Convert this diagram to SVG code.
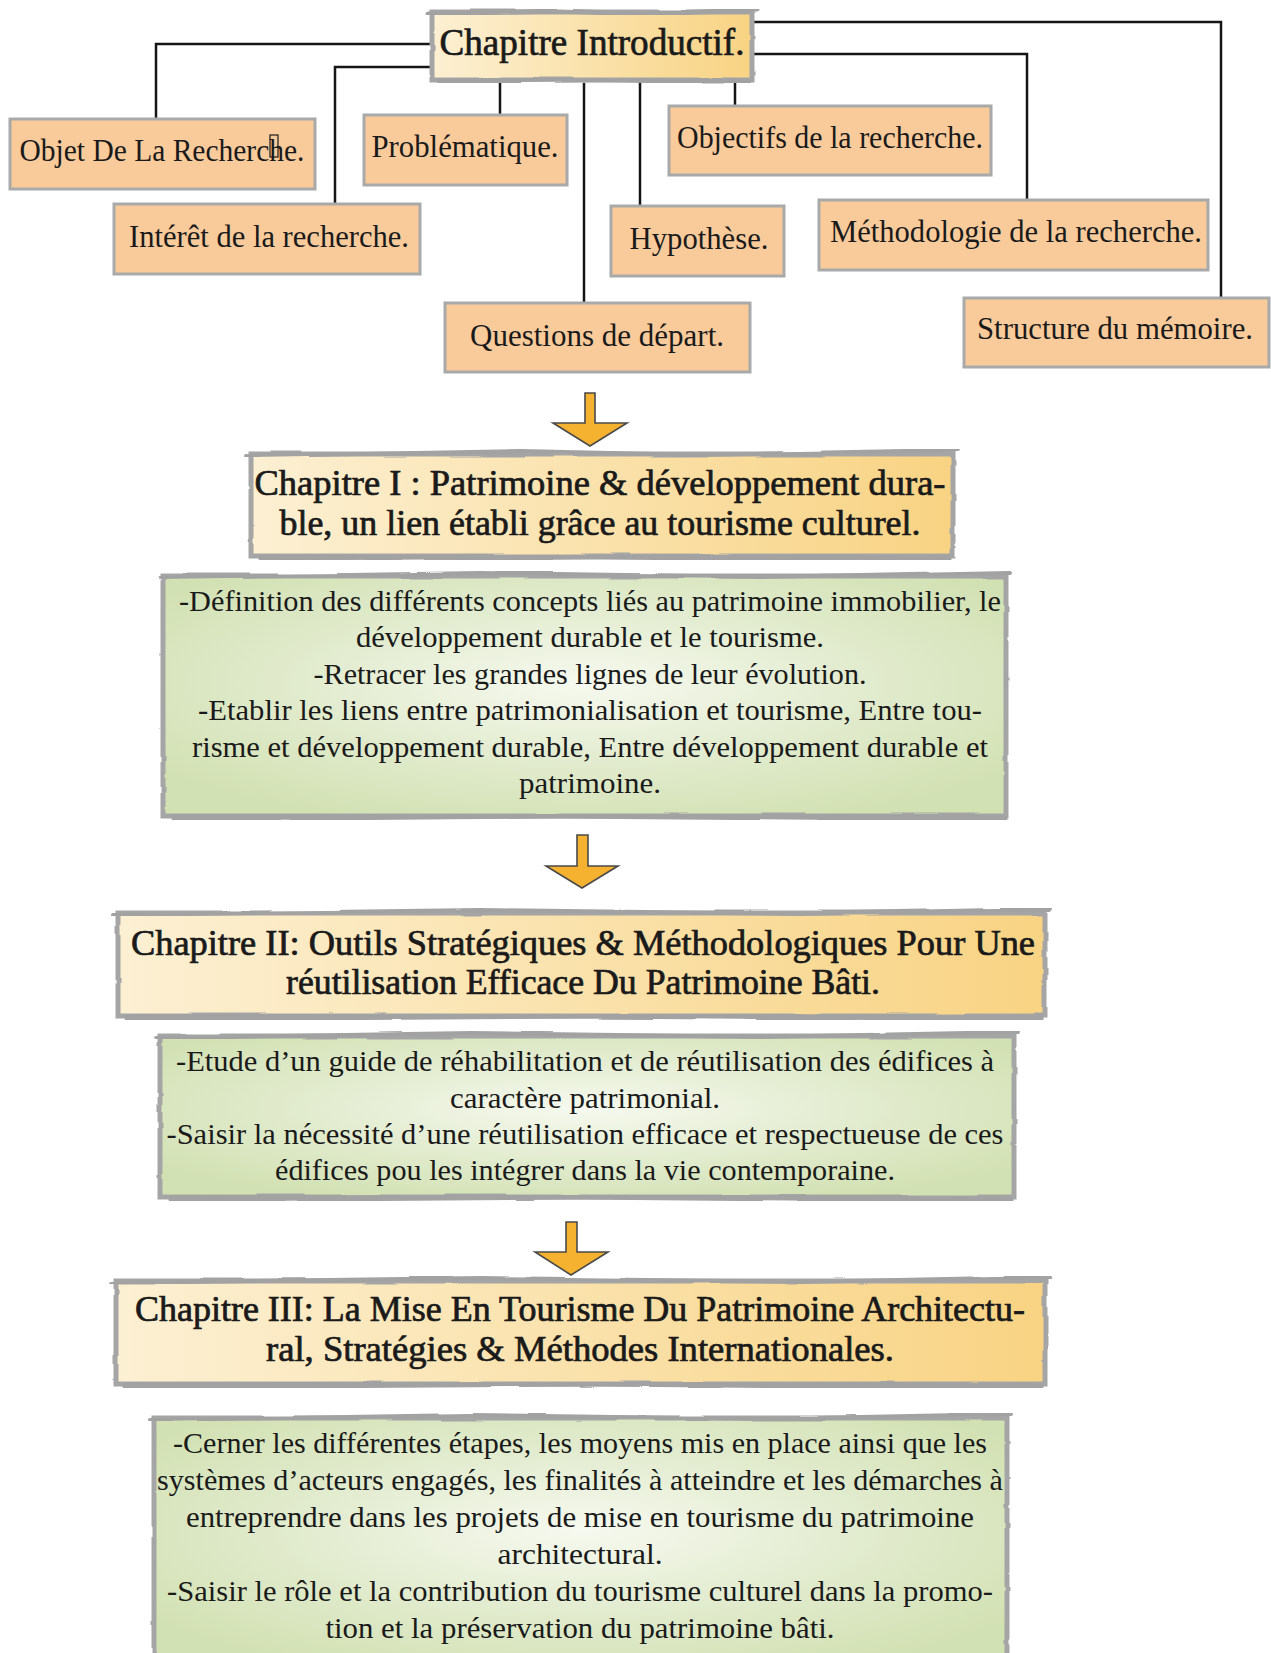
<svg xmlns="http://www.w3.org/2000/svg" width="1271" height="1653" viewBox="0 0 1271 1653">
  <defs>
    <linearGradient id="chapFill" x1="0" y1="0" x2="1" y2="0">
      <stop offset="0" stop-color="#FCF0D3"/>
      <stop offset="1" stop-color="#F8D383"/>
    </linearGradient>
    <radialGradient id="noteFill" cx="0.5" cy="0.45" r="0.62">
      <stop offset="0" stop-color="#F6F9EF"/>
      <stop offset="0.55" stop-color="#E1EBCD"/>
      <stop offset="1" stop-color="#D2E1B3"/>
    </radialGradient>
    <!-- soft hand-painted wobble for the frame strokes -->
    <filter id="rough" x="-3%" y="-15%" width="106%" height="130%">
      <feTurbulence type="fractalNoise" baseFrequency="0.012 0.06" numOctaves="2" seed="4" result="n"/>
      <feDisplacementMap in="SourceGraphic" in2="n" scale="3" xChannelSelector="R" yChannelSelector="G"/>
    </filter>
    <style>
      .txt { font-family: "Liberation Serif", "DejaVu Serif", serif; fill: #1a1a1a; text-anchor: middle; }
      .tagTxt { font-size: 31px; }
      .head { font-size: 35px; stroke: #1a1a1a; stroke-width: 0.7px; }
      .intro { font-size: 38px; stroke: #1a1a1a; stroke-width: 0.7px; }
      .body { font-size: 29px; }
      .tag { fill: #F9CB9B; stroke: #A9A9A9; stroke-width: 3; }
      .chap { fill: url(#chapFill); }
      .note { fill: url(#noteFill); }
      .frame { fill: none; stroke: #A5A5A5; stroke-width: 5; filter: url(#rough); }
      .brush { fill: none; stroke: #A2A2A2; stroke-linecap: round; filter: url(#rough); }
      .link { fill: none; stroke: #151515; stroke-width: 2.5; stroke-linecap: square; }
      .arrow { fill: #F5B231; stroke: #4A4A4A; stroke-width: 1.6; stroke-linejoin: miter; }
    </style>
  </defs>

  <rect width="1271" height="1653" fill="#FFFFFF"/>

  <!-- tree links from the introductory chapter -->
  <g id="connectors">
    <path class="link" d="M432,44 H156 V119"/>
    <path class="link" d="M432,67 H335 V204"/>
    <path class="link" d="M500,82 V115"/>
    <path class="link" d="M584,84 V303"/>
    <path class="link" d="M640,82 V206"/>
    <path class="link" d="M735,80 V106"/>
    <path class="link" d="M753,54 H1027 V200"/>
    <path class="link" d="M753,22 H1221 V298"/>
  </g>

  <!-- introductory chapter -->
  <g id="chapitre-introductif">
    <rect class="chap" x="432" y="12" width="320" height="68"/>
    <rect class="frame" x="432" y="12" width="320" height="68"/>
    <path class="brush" stroke-width="5" d="M428,14 L560,11 L640,14 L757,10"/>
    <path class="brush" stroke-width="6" d="M440,81 L600,79 L748,82"/>
    <text class="txt intro" x="592" y="55" textLength="305" lengthAdjust="spacingAndGlyphs">Chapitre Introductif.</text>
  </g>

  <!-- sub-topic labels -->
  <g id="objet">
    <rect class="tag" x="10" y="119" width="305" height="70"/>
    <text class="txt tagTxt" x="162" y="161" textLength="285" lengthAdjust="spacingAndGlyphs">Objet De La Recherche.</text>
    <rect x="270" y="135" width="8" height="22" fill="none" stroke="#1a1a1a" stroke-width="1.2"/>
  </g>
  <g id="problematique">
    <rect class="tag" x="364" y="115" width="203" height="70"/>
    <text class="txt tagTxt" x="465" y="157" textLength="187" lengthAdjust="spacingAndGlyphs">Problématique.</text>
  </g>
  <g id="interet">
    <rect class="tag" x="114" y="204" width="306" height="70"/>
    <text class="txt tagTxt" x="269" y="247" textLength="280" lengthAdjust="spacingAndGlyphs">Intérêt de la recherche.</text>
  </g>
  <g id="objectifs">
    <rect class="tag" x="669" y="106" width="322" height="69"/>
    <text class="txt tagTxt" x="830" y="148" textLength="306" lengthAdjust="spacingAndGlyphs">Objectifs de la recherche.</text>
  </g>
  <g id="hypothese">
    <rect class="tag" x="611" y="206" width="173" height="70"/>
    <text class="txt tagTxt" x="699" y="249" textLength="139" lengthAdjust="spacingAndGlyphs">Hypothèse.</text>
  </g>
  <g id="methodologie">
    <rect class="tag" x="819" y="200" width="389" height="70"/>
    <text class="txt tagTxt" x="1016" y="242" textLength="372" lengthAdjust="spacingAndGlyphs">Méthodologie  de la recherche.</text>
  </g>
  <g id="questions">
    <rect class="tag" x="445" y="303" width="305" height="69"/>
    <text class="txt tagTxt" x="597" y="346" textLength="254" lengthAdjust="spacingAndGlyphs">Questions de départ.</text>
  </g>
  <g id="structure">
    <rect class="tag" x="964" y="298" width="305" height="69"/>
    <text class="txt tagTxt" x="1115" y="339" textLength="276" lengthAdjust="spacingAndGlyphs">Structure du mémoire.</text>
  </g>

  <!-- flow arrows between chapters -->
  <g id="arrows">
    <path class="arrow" d="M585,393 H595 V423 H627 L590,446 L553,423 H585 Z"/>
    <path class="arrow" d="M577,835 H588 V866 H618 L582,888 L546,866 H577 Z"/>
    <path class="arrow" d="M566,1222 H577 V1252 H608 L571,1275 L535,1252 H566 Z"/>
  </g>

  <!-- chapter I -->
  <g id="chapitre-1">
    <rect class="chap" x="251" y="454" width="702" height="102"/>
    <rect class="frame" x="251" y="454" width="702" height="102"/>
    <path class="brush" stroke-width="4" d="M246,456 L520,451 L700,455 L958,450"/>
    <path class="brush" stroke-width="7" d="M262,558 L600,556 L948,559"/>
    <text class="txt head" x="600" y="495" textLength="691" lengthAdjust="spacingAndGlyphs">Chapitre I : Patrimoine &amp; développement dura-</text>
    <text class="txt head" x="600" y="535" textLength="641" lengthAdjust="spacingAndGlyphs">ble, un lien établi grâce au tourisme culturel.</text>
  </g>
  <g id="contenu-1">
    <rect class="note" x="163" y="576" width="843" height="240"/>
    <rect class="frame" x="163" y="576" width="843" height="240"/>
    <path class="brush" stroke-width="4" d="M160,578 L480,573 L760,577 L1010,572"/>
    <path class="brush" stroke-width="7" d="M175,818 L560,815 L1004,819"/>
    <text class="txt body" x="590" y="611" textLength="822" lengthAdjust="spacingAndGlyphs">-Définition des différents concepts liés au patrimoine immobilier, le</text>
    <text class="txt body" x="590" y="647" textLength="468" lengthAdjust="spacingAndGlyphs">développement durable et le tourisme.</text>
    <text class="txt body" x="590" y="684" textLength="553" lengthAdjust="spacingAndGlyphs">-Retracer les grandes lignes de leur évolution.</text>
    <text class="txt body" x="590" y="720" textLength="784" lengthAdjust="spacingAndGlyphs">-Etablir les liens entre patrimonialisation et tourisme, Entre tou-</text>
    <text class="txt body" x="590" y="757" textLength="796" lengthAdjust="spacingAndGlyphs">risme et développement durable, Entre développement durable et</text>
    <text class="txt body" x="590" y="793" textLength="142" lengthAdjust="spacingAndGlyphs">patrimoine.</text>
  </g>

  <!-- chapter II -->
  <g id="chapitre-2">
    <rect class="chap" x="118" y="913" width="927" height="103"/>
    <rect class="frame" x="118" y="913" width="927" height="103"/>
    <path class="brush" stroke-width="4" d="M113,915 L480,910 L800,914 L1050,909"/>
    <path class="brush" stroke-width="7" d="M128,1018 L600,1015 L1040,1019"/>
    <text class="txt head" x="583" y="955" textLength="904" lengthAdjust="spacingAndGlyphs">Chapitre II: Outils Stratégiques &amp; Méthodologiques Pour Une</text>
    <text class="txt head" x="583" y="994" textLength="594" lengthAdjust="spacingAndGlyphs">réutilisation Efficace Du Patrimoine Bâti.</text>
  </g>
  <g id="contenu-2">
    <rect class="note" x="160" y="1036" width="854" height="161"/>
    <rect class="frame" x="160" y="1036" width="854" height="161"/>
    <path class="brush" stroke-width="4" d="M156,1038 L470,1033 L760,1037 L1018,1032"/>
    <path class="brush" stroke-width="7" d="M172,1199 L580,1196 L1010,1200"/>
    <text class="txt body" x="585" y="1071" textLength="818" lengthAdjust="spacingAndGlyphs">-Etude d’un guide de réhabilitation et de réutilisation des édifices à</text>
    <text class="txt body" x="585" y="1108" textLength="270" lengthAdjust="spacingAndGlyphs">caractère patrimonial.</text>
    <text class="txt body" x="585" y="1144" textLength="837" lengthAdjust="spacingAndGlyphs">-Saisir la nécessité d’une réutilisation efficace et respectueuse  de ces</text>
    <text class="txt body" x="585" y="1180" textLength="620" lengthAdjust="spacingAndGlyphs">édifices pou les intégrer dans la vie contemporaine.</text>
  </g>

  <!-- chapter III -->
  <g id="chapitre-3">
    <rect class="chap" x="116" y="1281" width="929" height="103"/>
    <rect class="frame" x="116" y="1281" width="929" height="103"/>
    <path class="brush" stroke-width="4" d="M111,1283 L480,1278 L800,1282 L1050,1277"/>
    <path class="brush" stroke-width="7" d="M126,1386 L600,1383 L1040,1387"/>
    <text class="txt head" x="580" y="1321" textLength="890" lengthAdjust="spacingAndGlyphs">Chapitre III: La Mise En Tourisme Du Patrimoine Architectu-</text>
    <text class="txt head" x="580" y="1361" textLength="628" lengthAdjust="spacingAndGlyphs">ral, Stratégies &amp; Méthodes Internationales.</text>
  </g>
  <g id="contenu-3">
    <rect class="note" x="154" y="1418" width="853" height="250"/>
    <rect class="frame" x="154" y="1418" width="853" height="250"/>
    <path class="brush" stroke-width="4" d="M150,1420 L470,1415 L760,1419 L1011,1414"/>
    <text class="txt body" x="580" y="1453" textLength="814" lengthAdjust="spacingAndGlyphs">-Cerner les différentes étapes, les moyens mis en place ainsi que les</text>
    <text class="txt body" x="580" y="1490" textLength="846" lengthAdjust="spacingAndGlyphs">systèmes d’acteurs engagés, les finalités à atteindre et les démarches à</text>
    <text class="txt body" x="580" y="1527" textLength="788" lengthAdjust="spacingAndGlyphs">entreprendre dans les projets de mise en tourisme du patrimoine</text>
    <text class="txt body" x="580" y="1564" textLength="165" lengthAdjust="spacingAndGlyphs">architectural.</text>
    <text class="txt body" x="580" y="1601" textLength="826" lengthAdjust="spacingAndGlyphs">-Saisir le rôle et la contribution du tourisme culturel dans la promo-</text>
    <text class="txt body" x="580" y="1638" textLength="509" lengthAdjust="spacingAndGlyphs">tion et la préservation du patrimoine bâti.</text>
  </g>
</svg>
